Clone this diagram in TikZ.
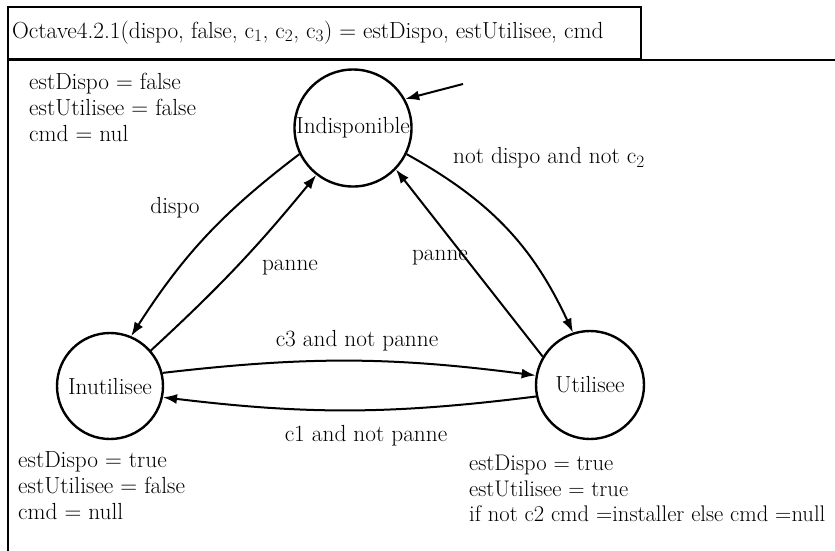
\documentclass[tikz,border=0pt]{standalone}
\usepackage{fontspec}
\usetikzlibrary{arrows.meta}
\begin{document}
\begin{tikzpicture}[x=1pt,y=-1pt,
  every node/.style={font=\fontsize{23.3}{26}\selectfont},
  state/.style={circle,draw,line width=2.4pt,minimum size=110pt,inner sep=0pt},
  trans/.style={line width=2pt,-{Latex[length=14pt,width=10pt]}},
  lbl/.style={inner sep=0pt},
  frameline/.style={line width=2pt}]
\useasboundingbox (0,0) rectangle (835,550);
% title box and main frame
\node[draw,frameline,anchor=north west,minimum width=633pt,minimum height=52pt,inner sep=0pt] (title) at (7,6) {};
\node[lbl,anchor=base west] (titletext) at (12,38) {Octave4.2.1(dispo, false, c$_1$, c$_2$, c$_3$) = estDispo, estUtilisee, cmd};
\coordinate (ftl) at (8,60);
\coordinate (ftr) at (840,60);
\coordinate (fbl) at (8,555);
\draw[frameline] (ftr) -- (ftl) -- (fbl);
% states
\node[state,minimum size=117pt] (ind) at (353,128) {Indisponible};
\node[state,minimum size=106pt] (inu) at (110,386) {Inutilisee};
\node[state,minimum size=108pt] (uti) at (590,385) {Utilisee};
% initial arrow
\coordinate (init) at (463,84);
\draw[trans] (init) -- (ind.29);
% transitions
\draw[trans] (ind.206) to[bend right=10] (inu.67);
\draw[trans] (inu.41) to[bend right=4] (ind.232);
\draw[trans] (ind.334) to[bend left=18] (uti.108);
\draw[trans] (uti.149) -- (ind.316);
\draw[trans] (inu.14) to[bend left=7] (uti.170);
\draw[trans] (uti.192) to[bend left=7] (inu.348);
% labels
\node[lbl] (ldispo) at (175,208) {dispo};
\node[lbl] (lpanne1) at (290,268) {panne};
\node[lbl,anchor=west] (lnotdispo) at (453,158) {not dispo and not c$_2$};
\node[lbl] (lpanne2) at (440,258) {panne};
\node[lbl] (lc3) at (357,341) {c3 and not panne};
\node[lbl] (lc1) at (366,436) {c1 and not panne};
% output blocks
\node[lbl,anchor=north west,align=left] (outind) at (29,73) {estDispo = false\\estUtilisee = false\\cmd = nul};
\node[lbl,anchor=north west,align=left] (outinu) at (18,451) {estDispo = true\\estUtilisee = false\\cmd = null};
\node[lbl,anchor=north west,align=left,font=\fontsize{22.6}{25.5}\selectfont] (oututi) at (469,455) {estDispo = true\\estUtilisee = true\\if not c2 cmd =installer else cmd =null};
\end{tikzpicture}
\end{document}
